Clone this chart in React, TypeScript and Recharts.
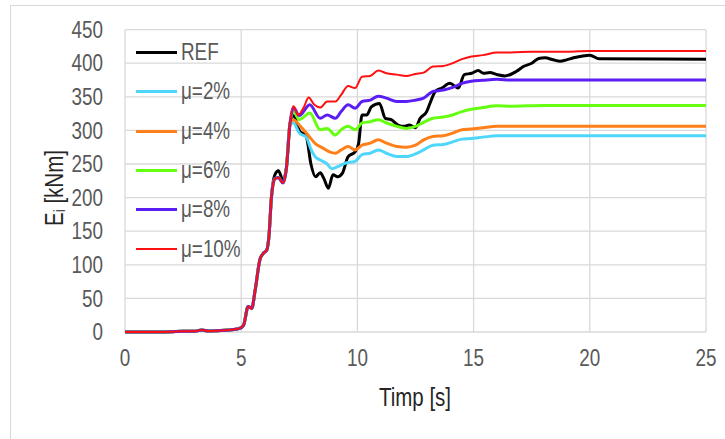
import { LineChart, Line, XAxis, YAxis, CartesianGrid, Legend } from "recharts"

const X_TICKS = [0, 5, 10, 15, 20, 25]
const Y_TICKS = [0, 50, 100, 150, 200, 250, 300, 350, 400, 450]

// all runs are practically the same until ~7 s
const START_T = [0, 1, 2, 2.5, 3, 3.3, 3.6, 4, 4.5, 4.9, 5.1, 5.3, 5.45, 5.6, 5.8, 5.95, 6.1, 6.2, 6.3, 6.45, 6.6, 6.8, 6.95, 7.1]
const START_V = [0, 0, 0.5, 1, 1, 3, 1.5, 2, 3, 5, 10, 38, 35, 62, 107, 117, 122, 145, 200, 228, 230, 222, 245, 310]
const REF_START_V = [0, 0, 0.5, 1, 1, 3, 1.5, 2, 3, 5, 10, 38, 35, 62, 107, 117, 122, 145, 200, 234, 240, 226, 246, 310]

const REF_T = [7.25, 7.5, 7.8, 8.0, 8.2, 8.4, 8.55, 8.75, 8.95, 9.15, 9.35, 9.6, 9.9, 10.05, 10.2, 10.4, 10.6, 10.95, 11.2, 11.45, 11.75, 12.0, 12.25, 12.5, 12.7, 12.98, 13.12, 13.35, 13.63, 13.98, 14.34, 14.6, 14.92, 15.2, 15.42, 15.7, 16.0, 16.35, 16.85, 17.14, 17.5, 17.8, 18.07, 18.43, 18.72, 19.0, 19.3, 19.6, 20.0, 20.4, 25]
const REF_V = [322, 300, 291, 250, 231, 237, 229, 214, 234, 231, 236, 261, 268, 280, 323, 323, 335, 340, 318, 316, 308, 306, 308, 304, 318, 328, 340, 358, 363, 370, 363, 383, 385, 389, 385, 386, 383, 381, 388, 395, 400, 407, 408, 405, 403, 405, 408, 410, 412, 406.5, 406]

const MU2_T = [7.25, 7.5, 7.8, 8.0, 8.2, 8.4, 8.7, 8.9, 9.15, 9.45, 9.9, 10.2, 10.55, 10.9, 11.25, 11.7, 12.1, 12.5, 12.85, 13.25, 13.7, 14.1, 14.5, 14.9, 15.4, 16.0, 18.0, 25]
const MU2_V = [311, 296, 290, 272, 260, 256, 250, 243, 246, 251, 254, 264, 266, 271, 266, 261, 261, 265, 271, 278, 279, 283, 287, 288, 290, 292, 292, 292]

const MU4_T = [7.25, 7.55, 7.9, 8.2, 8.5, 8.8, 9.05, 9.3, 9.6, 9.9, 10.2, 10.55, 10.9, 11.25, 11.7, 12.1, 12.5, 12.85, 13.25, 13.7, 14.1, 14.5, 14.9, 15.4, 16.0, 18.0, 25]
const MU4_V = [316, 306, 292, 280, 274, 268, 266, 271, 276, 271, 278, 281, 286, 281, 276, 275, 278, 286, 291, 292, 296, 301, 302, 304, 306, 306, 306]

const MU6_T = [7.25, 7.5, 7.95, 8.4, 8.7, 9.05, 9.3, 9.6, 9.9, 10.2, 10.55, 10.9, 11.25, 11.7, 12.1, 12.5, 12.85, 13.25, 13.7, 14.1, 14.5, 14.9, 15.4, 16.0, 16.6, 18.0, 25]
const MU6_V = [328, 316, 326, 301, 303, 293, 301, 306, 301, 311, 313, 316, 311, 306, 303, 306, 312, 318, 320, 323, 328, 331.5, 334, 336.5, 336, 337, 337]

const MU8_T = [7.25, 7.5, 7.95, 8.4, 8.7, 9.05, 9.3, 9.6, 9.9, 10.2, 10.55, 10.9, 11.25, 11.7, 12.1, 12.5, 12.85, 13.25, 13.7, 14.1, 14.5, 14.9, 15.4, 16.0, 16.6, 18.0, 25]
const MU8_V = [334, 322, 338, 318, 323, 318, 328, 338, 333, 343, 345, 351, 348, 343, 343, 345, 348, 358, 360, 364, 370, 373, 374.5, 376, 375, 375, 375]

const MU10_T = [7.25, 7.45, 7.7, 7.9, 8.15, 8.4, 8.7, 9.05, 9.3, 9.6, 9.9, 10.2, 10.55, 10.9, 11.25, 11.7, 12.1, 12.5, 12.85, 13.25, 13.7, 14.1, 14.5, 14.9, 15.4, 16.0, 16.6, 17.5, 18.7, 20.0, 25]
const MU10_V = [336, 323, 335, 349, 338, 334, 343, 343, 353, 366, 363, 380, 381, 389, 385, 383, 381, 384, 386, 395, 396, 400, 406, 410, 412, 416, 416, 417, 417, 418, 418]

const build = (t0: number[], v0: number[], t1: number[], v1: number[]) =>
  [...t0.map((t, i) => ({ t, v: v0[i] })), ...t1.map((t, i) => ({ t, v: v1[i] }))]

const SERIES = [
  { name: "REF", color: "#000000", width: 3, data: build(START_T, REF_START_V, REF_T, REF_V) },
  { name: "μ=2%", color: "#4fd7fb", width: 3, data: build(START_T, START_V, MU2_T, MU2_V) },
  { name: "μ=4%", color: "#ff7f1a", width: 3, data: build(START_T, START_V, MU4_T, MU4_V) },
  { name: "μ=6%", color: "#66ff11", width: 3, data: build(START_T, START_V, MU6_T, MU6_V) },
  { name: "μ=8%", color: "#5a1ef5", width: 3, data: build(START_T, START_V, MU8_T, MU8_V) },
  { name: "μ=10%", color: "#ff1010", width: 2, data: build(START_T, START_V, MU10_T, MU10_V) },
]

const FONT = "'Liberation Sans', Arial, sans-serif"
const NARROW = 0.82 // the original uses a condensed face

const XTick = ({ x, y, payload }: any) => (
  <text transform={`translate(${x},${y}) scale(${NARROW},1)`} textAnchor="middle" dy="0.71em" fill="#595959" fontSize={23} fontFamily={FONT}>
    {payload.value}
  </text>
)

const YTick = ({ x, y, payload }: any) => (
  <text transform={`translate(${x},${y}) scale(${NARROW},1)`} textAnchor="end" dy="0.355em" fill="#595959" fontSize={23} fontFamily={FONT}>
    {payload.value}
  </text>
)

const LegendBox = () => (
  <div style={{ fontFamily: FONT }}>
    {SERIES.map((s) => (
      <div key={s.name} style={{ display: "flex", alignItems: "center", height: 39.3 }}>
        <span style={{ display: "inline-block", width: 41, height: s.width, background: s.color, marginRight: 4 }} />
        <span style={{ fontSize: 23, color: "#595959", display: "inline-block", transform: `scaleX(${NARROW})`, transformOrigin: "left center" }}>
          {s.name}
        </span>
      </div>
    ))}
  </div>
)

export default function App() {
  return (
    <div style={{ position: "fixed", left: 0, top: 0, width: 725, height: 439, background: "#fff", overflow: "hidden" }}>
      <div style={{ position: "absolute", left: 10, top: 5, width: 740, height: 460, border: "1px solid #d9d9d9" }} />
      <LineChart
        width={725}
        height={439}
        margin={{ top: 29.6, right: 19, bottom: 77, left: 65 }}
        style={{ fontFamily: FONT }}
      >
        <CartesianGrid stroke="#d9d9d9" strokeWidth={1.3} />
        <XAxis
          dataKey="t"
          type="number"
          domain={[0, 25]}
          ticks={X_TICKS}
          allowDataOverflow
          height={30}
          axisLine={false}
          tickLine={false}
          tickSize={0}
          tickMargin={18}
          tick={<XTick />}
          label={{
            content: () => (
              <text transform={`translate(415,397) scale(${NARROW},1)`} textAnchor="middle" dominantBaseline="central" fill="#262626" fontSize={25} fontFamily={FONT}>
                Timp [s]
              </text>
            ),
          }}
        />
        <YAxis
          type="number"
          domain={[0, 450]}
          ticks={Y_TICKS}
          width={60}
          axisLine={false}
          tickLine={false}
          tickSize={0}
          tickMargin={22}
          tick={<YTick />}
          label={{
            content: () => (
              <text transform={`translate(54,188) rotate(-90) scale(${NARROW},1)`} textAnchor="middle" dominantBaseline="central" fill="#262626" fontSize={25} fontFamily={FONT}>
                E<tspan fontSize={16} dy={6}>i</tspan>
                <tspan dy={-6}> [kNm]</tspan>
              </text>
            ),
          }}
        />
        <Legend
          layout="vertical"
          align="center"
          verticalAlign="middle"
          content={() => <LegendBox />}
          wrapperStyle={{ position: "absolute", left: 136, top: 33, width: 140 }}
        />
        {SERIES.map((s) => (
          <Line
            key={s.name}
            data={s.data}
            dataKey="v"
            name={s.name}
            type="monotone"
            stroke={s.color}
            strokeWidth={s.width}
            dot={false}
            activeDot={false}
            isAnimationActive={false}
          />
        ))}
      </LineChart>
    </div>
  )
}
